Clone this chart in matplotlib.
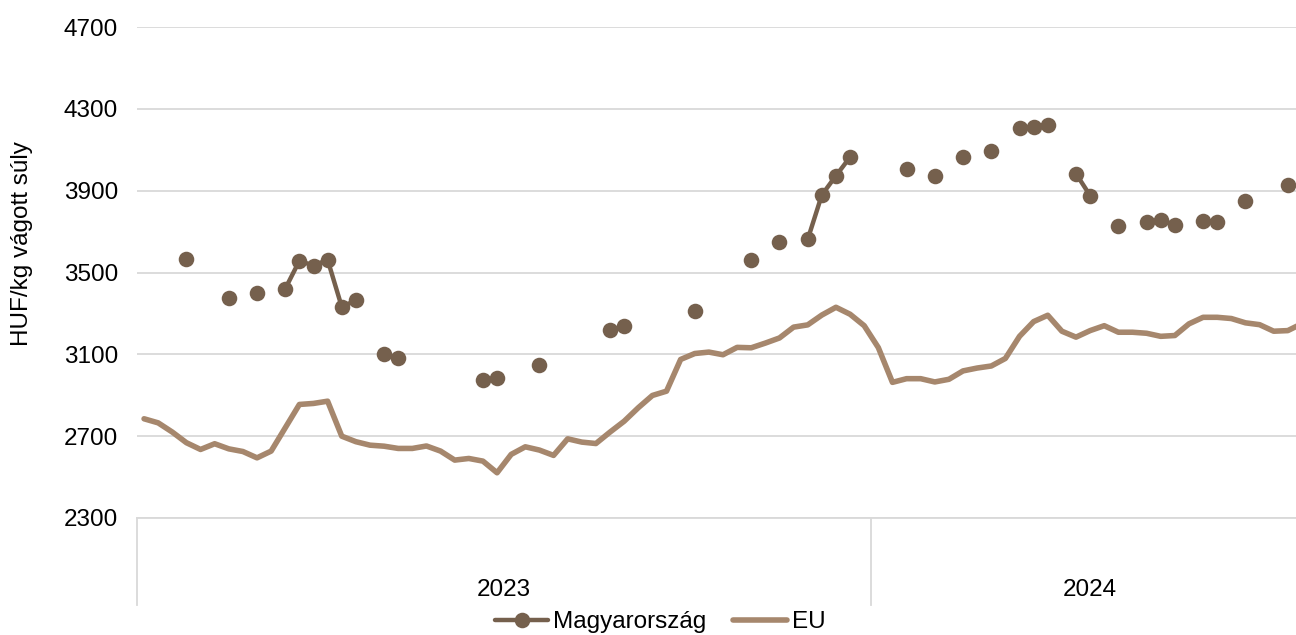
import numpy as np
import matplotlib
matplotlib.use("Agg")
import matplotlib.pyplot as plt
import matplotlib.transforms as mtransforms

plt.rcParams['font.family'] = ['Liberation Sans', 'DejaVu Sans']

# ---- data ----
years = ["2023", "2024"]
weeks_per_year = [52, 31]

hu_known = {
    3: 3565, 6: 3374, 8: 3400, 10: 3421, 11: 3557, 12: 3534, 13: 3562, 14: 3332,
    15: 3364, 17: 3100, 18: 3082, 24: 2974, 25: 2983, 28: 3048, 33: 3218, 34: 3238,
    39: 3310, 43: 3560, 45: 3647, 47: 3662, 48: 3879, 49: 3973, 50: 4064, 54: 4008,
    56: 3972, 58: 4067, 60: 4096, 62: 4207, 63: 4213, 64: 4223, 66: 3983, 67: 3876,
    69: 3727, 71: 3747, 72: 3758, 73: 3732, 75: 3753, 76: 3747, 78: 3848, 81: 3929,
}
n_weeks = sum(weeks_per_year)
magyarorszag = [hu_known.get(i, np.nan) for i in range(n_weeks)]

eu = [2785, 2765, 2720, 2668, 2635, 2663, 2638, 2625, 2594, 2627,
      2741, 2855, 2860, 2871, 2700, 2673, 2656, 2651, 2640, 2640,
      2652, 2627, 2583, 2591, 2578, 2521, 2611, 2648, 2632, 2606,
      2687, 2671, 2664, 2720, 2773, 2839, 2899, 2920, 3075, 3104,
      3111, 3098, 3134, 3132, 3155, 3180, 3233, 3244, 3292, 3330,
      3296, 3240, 3133, 2963, 2981, 2981, 2965, 2978, 3019, 3033,
      3043, 3080, 3188, 3260, 3291, 3213, 3184, 3216, 3240, 3208,
      3208, 3203, 3188, 3192, 3249, 3281, 3281, 3275, 3254, 3245,
      3213, 3216, 3250]

yticks = [2300, 2700, 3100, 3500, 3900, 4300, 4700]

# ---- style ----
c_hu = "#75604D"
c_eu = "#A6876D"
grid_c = "#D9D9D9"
fs = 17.5

W, H = 1296, 635
fig = plt.figure(figsize=(W / 100, H / 100), dpi=100)
ax_left, ax_right = 137 / W, 1.0
ax_bottom, ax_top = (H - 518) / H, (H - 27) / H
ax = fig.add_axes([ax_left, ax_bottom, ax_right - ax_left, ax_top - ax_bottom])

x = np.arange(n_weeks)
l_eu, = ax.plot(x, eu, color=c_eu, lw=4.0, solid_joinstyle='round',
                solid_capstyle='round', label="EU", zorder=3)
l_hu, = ax.plot(x, magyarorszag, color=c_hu, lw=3.2, marker='o', markersize=11.2,
                markeredgewidth=0, solid_joinstyle='round', solid_capstyle='round',
                label="Magyarország", zorder=4)

ax.set_ylim(2300, 4700)
ax.set_xlim(-0.5, 81.58)
ax.set_yticks(yticks)
ax.set_yticklabels([str(v) for v in yticks], fontsize=fs)
ax.tick_params(axis='y', length=0, pad=13.5)
ax.tick_params(axis='x', length=0, labelbottom=False)
ax.set_xticks([])
ax.grid(axis='y', color=grid_c, lw=1.3)
ax.set_axisbelow(True)
for s in ["top", "right", "left"]:
    ax.spines[s].set_visible(False)
ax.spines["bottom"].set_color(grid_c)
ax.spines["bottom"].set_linewidth(1.3)

# multi-level category axis: group separators and year labels
trans = mtransforms.blended_transform_factory(ax.transData, ax.transAxes)
sep_len = (605 - 518) / (518 - 27)
start = -0.5
for yr, nw in zip(years, weeks_per_year):
    ax.plot([start, start], [0, -sep_len], transform=trans, color=grid_c,
            lw=1.3, clip_on=False)
    ax.text(start + nw / 2, -(590 - 518) / (518 - 27), yr, transform=trans,
            ha='center', va='center', fontsize=fs)
    start += nw

fig.text(22 / W, (H - 244) / H, "HUF/kg vágott súly", rotation=90,
         ha='center', va='center', fontsize=fs)

fig.legend(handles=[l_hu, l_eu], loc='center', bbox_to_anchor=(660 / W, (H - 622) / H),
           ncol=2, frameon=False, fontsize=fs, handlelength=2.2, handletextpad=0.2,
           columnspacing=1.1, borderpad=0)

fig.savefig("out.png", dpi=100)
